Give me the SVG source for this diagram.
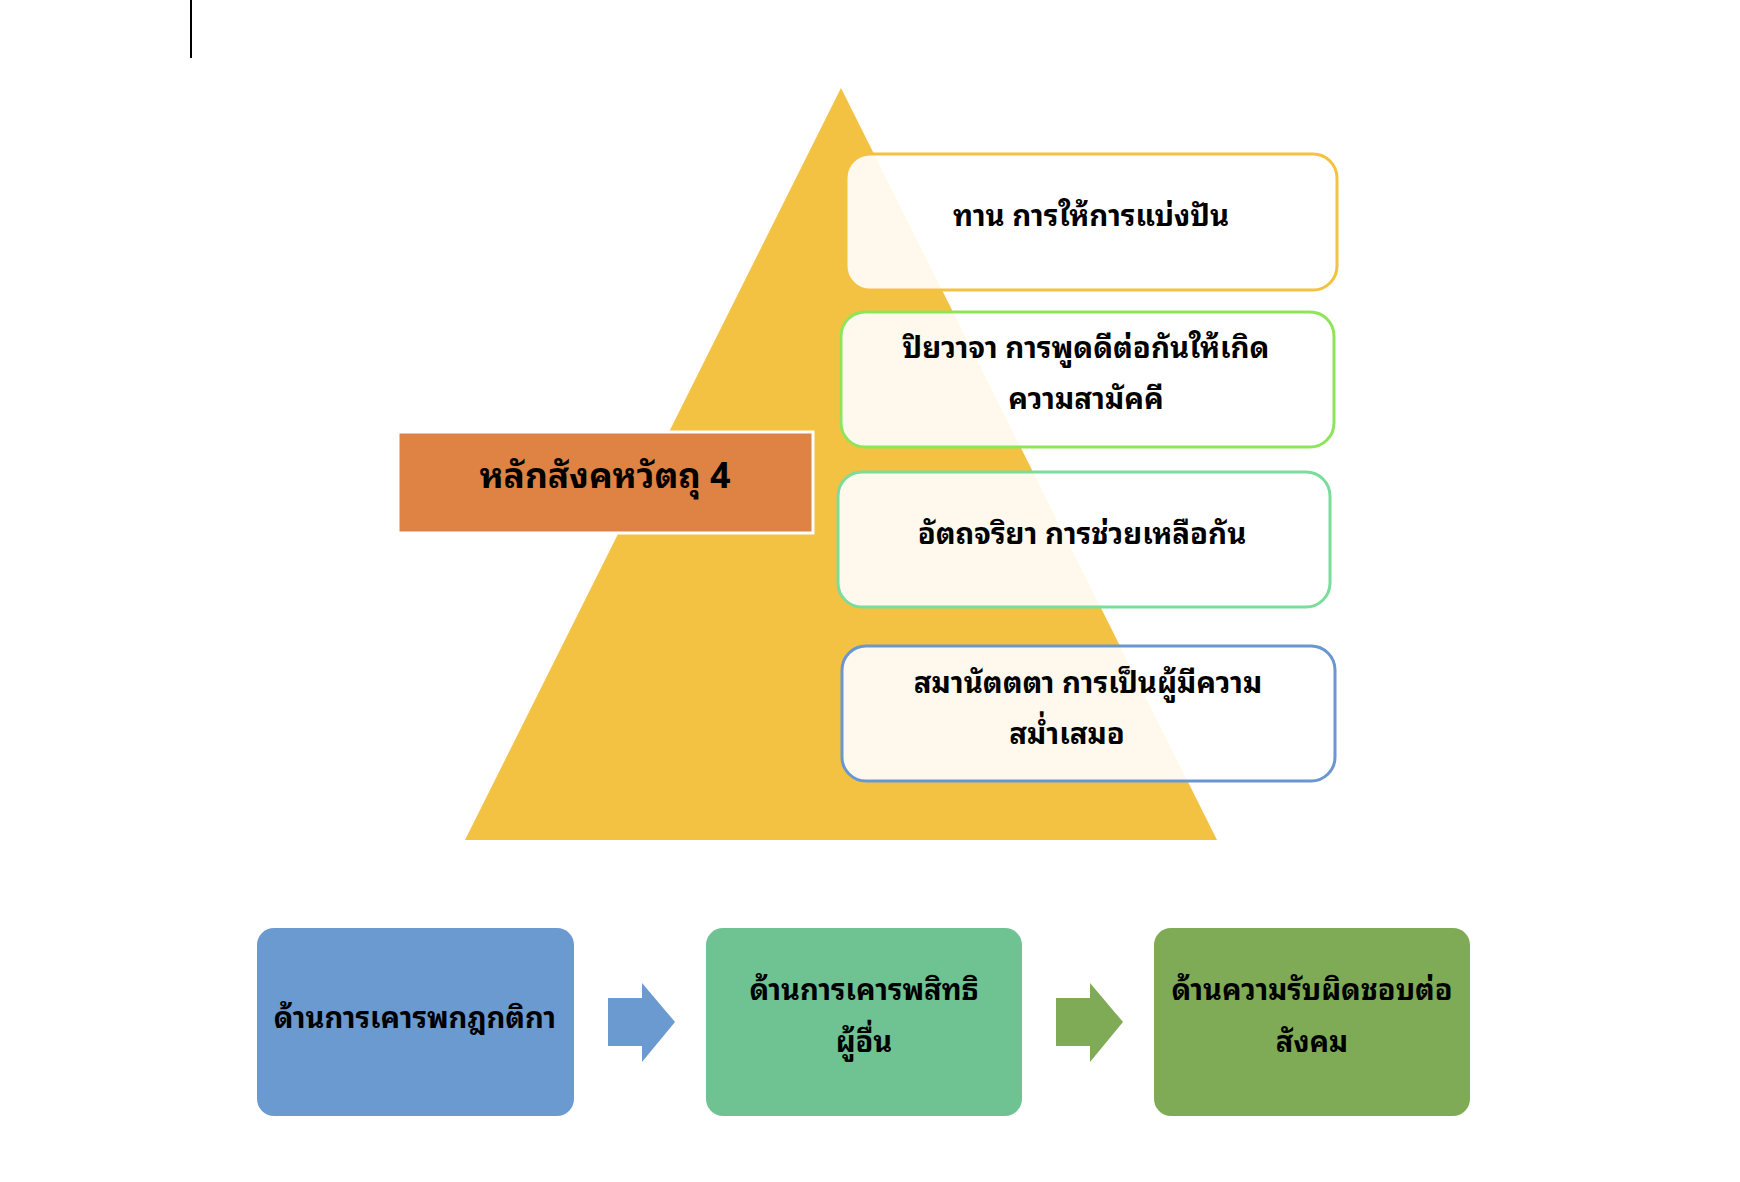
<svg xmlns="http://www.w3.org/2000/svg" width="1740" height="1182" viewBox="0 0 1740 1182">
<style>
text{font-family:"Noto Sans Thai Looped","Tahoma","Leelawadee UI","Noto Sans Thai","Noto Sans","DejaVu Sans",sans-serif;font-weight:bold;fill:#000;text-anchor:middle}
.t1{font-size:29.3px}
.t2{font-size:29px}
.lab{font-size:35.3px}
.card{fill:#fff;fill-opacity:0.9;stroke-width:3}
</style>
<rect width="1740" height="1182" fill="#fff"/>
<line x1="191" y1="0" x2="191" y2="58" stroke="#000" stroke-width="2"/>
<g id="pyramid"><polygon points="841,88 1217,840 465,840" fill="#F4C242"/></g>
<g id="label"><rect x="398" y="432" width="415" height="101" fill="#DF8344" stroke="#fff" stroke-width="3"/><text class="lab" x="605" y="488">หลักสังคหวัตถุ 4</text></g>
<g id="card1"><rect class="card" x="846" y="154" width="491" height="136" rx="24" stroke="#F4C242"/><text class="t1" x="1091" y="226">ทาน การให้การแบ่งปัน</text></g>
<g id="card2"><rect class="card" x="841" y="312" width="493" height="135" rx="24" stroke="#8FE55A"/><text class="t1" x="1086" y="358">ปิยวาจา การพูดดีต่อกันให้เกิด</text><text class="t1" x="1086" y="409">ความสามัคคี</text></g>
<g id="card3"><rect class="card" x="838" y="472" width="492" height="135" rx="24" stroke="#7BDC9C"/><text class="t1" x="1082" y="544">อัตถจริยา การช่วยเหลือกัน</text></g>
<g id="card4"><rect class="card" x="842" y="646" width="493" height="135" rx="24" stroke="#6A97D0"/><text class="t1" x="1088" y="693">สมานัตตตา การเป็นผู้มีความ</text><text class="t1" x="1067" y="744">สม่ำเสมอ</text></g>
<g id="boxA"><rect x="257" y="928" width="317" height="188" rx="17" fill="#6A9ACF"/><text class="t2" x="415" y="1028">ด้านการเคารพกฎกติกา</text></g>
<g id="boxB"><rect x="706" y="928" width="316" height="188" rx="17" fill="#6FC392"/><text class="t2" x="864" y="1000">ด้านการเคารพสิทธิ</text><text class="t2" x="864" y="1052">ผู้อื่น</text></g>
<g id="boxC"><rect x="1154" y="928" width="316" height="188" rx="17" fill="#7FAB56"/><text class="t2" x="1312" y="1000">ด้านความรับผิดชอบต่อ</text><text class="t2" x="1312" y="1052">สังคม</text></g>
<g id="connectors">
<polygon points="608,998 642,998 642,983 675,1022 642,1062 642,1046 608,1046" fill="#6A9ACF"/>
<polygon points="1056,998 1090,998 1090,983 1123,1022 1090,1062 1090,1046 1056,1046" fill="#7FAB56"/>
</g>
</svg>
